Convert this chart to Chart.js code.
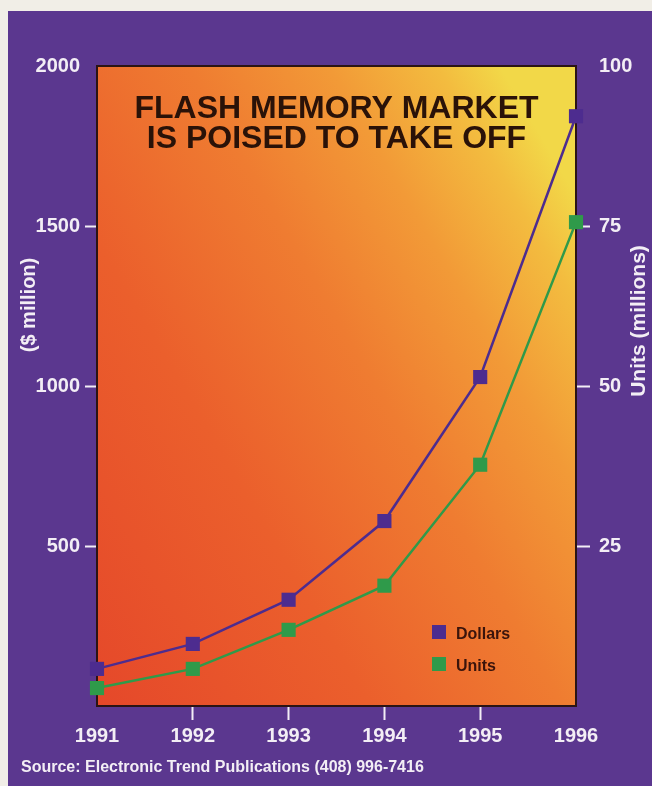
<!DOCTYPE html>
<html>
<head>
<meta charset="utf-8">
<title>Flash memory market</title>
<script src="https://cdn.jsdelivr.net/npm/chart.js@4.4.1/dist/chart.umd.min.js"></script>
<style>
  html, body { margin: 0; padding: 0; background: #f1eee7; }
  canvas { display: block; }
</style>
</head>
<body>
<canvas id="flashChart" width="652" height="786"></canvas>
<script>
// valores
const years = ['1991', '1992', '1993', '1994', '1995', '1996'];
const dollars = [116, 194, 332, 578, 1028, 1843];   // $ million
const units = [2.8, 5.8, 11.9, 18.8, 37.7, 75.6];    // millions of units
const dollarTicks = [500, 1000, 1500, 2000];
const unitTicks = [25, 50, 75, 100];
const titleLines = ['FLASH MEMORY MARKET', 'IS POISED TO TAKE OFF'];
const sourceText = 'Source: Electronic Trend Publications (408) 996-7416';

const FONT = '"Liberation Sans", Arial, Helvetica, sans-serif';
const WHITE = '#f3eef5';
const PURPLE = '#4d2c8f';
const GREEN = '#2f9a4a';
const INK = '#2a1208';
const hidden = 'rgba(0,0,0,0)';

// fondo morado, degradado del área y marco
const backdrop = {
    id: 'backdrop',
    beforeDraw(chart) {
        const { ctx, chartArea: a, width, height } = chart;
        ctx.save();
        ctx.fillStyle = '#f1eee7';
        ctx.fillRect(0, 0, width, height);
        ctx.fillStyle = '#5b378f';
        ctx.fillRect(8, 11, width - 8, height - 11);

        const g = ctx.createLinearGradient(a.left, a.bottom, a.right + 100, a.top + 300);
        g.addColorStop(0, '#e5482a');
        g.addColorStop(0.35, '#eb5f2c');
        g.addColorStop(0.6, '#ef7c31');
        g.addColorStop(0.78, '#f29a37');
        g.addColorStop(0.92, '#f3bc3f');
        g.addColorStop(1, '#f2d848');
        ctx.fillStyle = g;
        ctx.fillRect(a.left, a.top, a.right - a.left, a.bottom - a.top);
        ctx.restore();
    },
    beforeDatasetsDraw(chart) {
        const { ctx, chartArea: a } = chart;
        ctx.save();
        ctx.strokeStyle = '#2b1414';
        ctx.lineWidth = 2;
        ctx.strokeRect(a.left, a.top, a.right - a.left, a.bottom - a.top);

        // título dentro del área
        ctx.fillStyle = INK;
        ctx.font = 'bold 32px ' + FONT;
        ctx.textAlign = 'center';
        ctx.textBaseline = 'alphabetic';
        const cx = (a.left + a.right) / 2;
        titleLines.forEach((line, i) => ctx.fillText(line, cx, a.top + 52 + i * 30));

        // títulos de los ejes
        ctx.fillStyle = WHITE;
        ctx.textBaseline = 'middle';
        ctx.font = 'bold 20px ' + FONT;
        ctx.translate(29, 305);
        ctx.rotate(-Math.PI / 2);
        ctx.fillText('($ million)', 0, 0);
        ctx.setTransform(1, 0, 0, 1, 0, 0);
        ctx.font = 'bold 21px ' + FONT;
        ctx.translate(639, 321);
        ctx.rotate(-Math.PI / 2);
        ctx.fillText('Units (millions)', 0, 0);
        ctx.setTransform(1, 0, 0, 1, 0, 0);

        // fuente
        ctx.textAlign = 'left';
        ctx.textBaseline = 'alphabetic';
        ctx.font = 'bold 16px ' + FONT;
        ctx.fillText(sourceText, 21, 772);
        ctx.restore();
    },
    afterDraw(chart) {
        // leyenda dentro del área, abajo a la derecha
        const { ctx, chartArea: a } = chart;
        ctx.save();
        ctx.font = 'bold 16px ' + FONT;
        ctx.textAlign = 'left';
        ctx.textBaseline = 'alphabetic';
        chart.data.datasets.forEach((ds, i) => {
            const y = a.bottom - 81 + i * 32;
            ctx.fillStyle = ds.pointBackgroundColor;
            ctx.fillRect(a.left + 335, y, 14, 14);
            ctx.fillStyle = '#3a140c';
            ctx.fillText(ds.label, a.left + 359, y + 14);
        });
        ctx.restore();
    }
};

const tickFont = { family: FONT, size: 20, weight: 'bold' };
const plain = v => String(v);

new Chart(document.getElementById('flashChart'), {
    type: 'line',
    data: {
        labels: years,
        datasets: [{
            label: 'Dollars',
            data: dollars,
            yAxisID: 'y',
            borderColor: PURPLE,
            borderWidth: 2.5,
            pointStyle: 'rect',
            pointRadius: 10,
            pointBackgroundColor: PURPLE,
            pointBorderWidth: 0,
            tension: 0,
            clip: false
        }, {
            label: 'Units',
            data: units,
            yAxisID: 'y2',
            borderColor: GREEN,
            borderWidth: 2.5,
            pointStyle: 'rect',
            pointRadius: 10,
            pointBackgroundColor: GREEN,
            pointBorderWidth: 0,
            tension: 0,
            clip: false
        }]
    },
    options: {
        responsive: false,
        animation: false,
        events: [],
        layout: { padding: { top: 66, left: 0, right: 0, bottom: 0 } },
        plugins: {
            legend: { display: false },
            tooltip: { enabled: false },
            title: { display: false }
        },
        scales: {
            x: {
                type: 'category',
                offset: false,
                border: { display: false },
                grid: {
                    drawOnChartArea: false,
                    offset: false,
                    tickLength: 14,
                    tickWidth: 2,
                    tickColor: c => (c.index === 0 || c.index === years.length - 1) ? hidden : WHITE
                },
                ticks: { color: WHITE, font: tickFont, padding: 4, maxRotation: 0, autoSkip: false },
                afterFit: s => { s.height = 80; }
            },
            y: {
                position: 'left',
                min: 0,
                max: 2000,
                border: { display: false },
                grid: {
                    drawOnChartArea: false,
                    tickLength: 12,
                    tickWidth: 2,
                    tickColor: c => (c.tick && c.tick.value < 2000) ? WHITE : hidden
                },
                afterBuildTicks: s => { s.ticks = dollarTicks.map(v => ({ value: v })); },
                ticks: { color: WHITE, font: tickFont, padding: 5, callback: plain },
                afterFit: s => { s.width = 97; }
            },
            y2: {
                position: 'right',
                min: 0,
                max: 100,
                border: { display: false },
                grid: {
                    drawOnChartArea: false,
                    tickLength: 14,
                    tickWidth: 2,
                    tickColor: c => (c.tick && c.tick.value < 100) ? WHITE : hidden
                },
                afterBuildTicks: s => { s.ticks = unitTicks.map(v => ({ value: v })); },
                ticks: { color: WHITE, font: tickFont, padding: 9, callback: plain },
                afterFit: s => { s.width = 76; }
            }
        }
    },
    plugins: [backdrop]
});
</script>
</body>
</html>
